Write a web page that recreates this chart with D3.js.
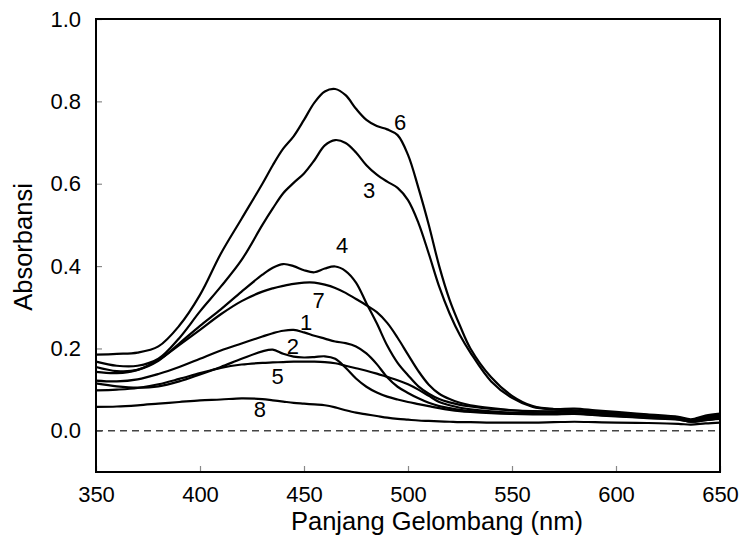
<!DOCTYPE html>
<html>
<head>
<meta charset="utf-8">
<script src="https://cdn.jsdelivr.net/npm/d3@7"></script>
<style>
  html, body { margin: 0; padding: 0; background: #fff; }
  svg { display: block; }
  text { font-family: "Liberation Sans", Arial, Helvetica, sans-serif; fill: #000; }
</style>
</head>
<body>
<svg id="chart" width="748" height="540"></svg>
<script>
// Wavelength grid (nm) shared by every spectrum
const wavelength = [350, 360, 370, 380, 390, 400, 410, 420, 430, 435, 440, 445, 450, 455, 460, 465, 470,
  475, 480, 485, 490, 495, 500, 505, 510, 515, 520, 525, 530, 540, 550, 560, 570, 580, 590, 600,
  615, 630, 636, 643, 650];

// Absorbance spectra, one array per sample
const spectrum1 = [0.122, 0.120, 0.125, 0.138, 0.155, 0.175, 0.195, 0.212, 0.229, 0.237, 0.243, 0.245, 0.239,
  0.231, 0.224, 0.217, 0.213, 0.205, 0.188, 0.162, 0.130, 0.107, 0.092, 0.079, 0.068, 0.060, 0.055,
  0.051, 0.048, 0.045, 0.043, 0.042, 0.042, 0.043, 0.040, 0.037, 0.033, 0.029, 0.023, 0.028, 0.031];
const spectrum2 = [0.115, 0.108, 0.105, 0.108, 0.120, 0.137, 0.155, 0.175, 0.193, 0.197, 0.187, 0.180, 0.178,
  0.179, 0.181, 0.175, 0.153, 0.127, 0.107, 0.093, 0.083, 0.076, 0.070, 0.065, 0.060, 0.055, 0.051,
  0.048, 0.046, 0.043, 0.041, 0.040, 0.040, 0.041, 0.038, 0.035, 0.031, 0.027, 0.022, 0.026, 0.029];
const spectrum3 = [0.168, 0.158, 0.158, 0.175, 0.225, 0.290, 0.350, 0.415, 0.500, 0.540, 0.577, 0.602, 0.625,
  0.657, 0.693, 0.706, 0.699, 0.676, 0.645, 0.622, 0.605, 0.590, 0.560, 0.505, 0.430, 0.350, 0.285,
  0.232, 0.190, 0.120, 0.080, 0.058, 0.052, 0.050, 0.047, 0.043, 0.038, 0.032, 0.026, 0.034, 0.040];
const spectrum4 = [0.155, 0.145, 0.148, 0.170, 0.212, 0.255, 0.295, 0.338, 0.379, 0.396, 0.405, 0.400, 0.390,
  0.385, 0.394, 0.399, 0.388, 0.360, 0.310, 0.261, 0.207, 0.165, 0.135, 0.108, 0.090, 0.077, 0.069,
  0.063, 0.059, 0.053, 0.050, 0.048, 0.047, 0.048, 0.045, 0.041, 0.036, 0.031, 0.025, 0.032, 0.037];
const spectrum5 = [0.098, 0.100, 0.104, 0.113, 0.126, 0.140, 0.153, 0.161, 0.165, 0.166, 0.167, 0.168, 0.168,
  0.168, 0.167, 0.164, 0.158, 0.152, 0.146, 0.139, 0.131, 0.123, 0.113, 0.100, 0.085, 0.070, 0.062,
  0.056, 0.052, 0.047, 0.044, 0.043, 0.042, 0.042, 0.039, 0.036, 0.032, 0.028, 0.022, 0.026, 0.030];
const spectrum6 = [0.185, 0.187, 0.190, 0.205, 0.255, 0.330, 0.430, 0.515, 0.600, 0.645, 0.685, 0.715, 0.755,
  0.797, 0.824, 0.830, 0.815, 0.782, 0.755, 0.740, 0.732, 0.718, 0.670, 0.590, 0.500, 0.400, 0.318,
  0.255, 0.200, 0.130, 0.085, 0.060, 0.053, 0.054, 0.050, 0.046, 0.040, 0.034, 0.028, 0.037, 0.042];
const spectrum7 = [0.143, 0.140, 0.148, 0.172, 0.208, 0.245, 0.283, 0.315, 0.338, 0.346, 0.352, 0.357, 0.360,
  0.360, 0.355, 0.347, 0.335, 0.320, 0.305, 0.288, 0.262, 0.226, 0.185, 0.145, 0.112, 0.090, 0.077,
  0.068, 0.062, 0.055, 0.050, 0.047, 0.046, 0.047, 0.044, 0.040, 0.035, 0.030, 0.024, 0.030, 0.034];
const spectrum8 = [0.058, 0.059, 0.062, 0.066, 0.070, 0.074, 0.076, 0.079, 0.077, 0.074, 0.071, 0.068, 0.066,
  0.064, 0.062, 0.057, 0.050, 0.044, 0.040, 0.036, 0.032, 0.029, 0.027, 0.025, 0.024, 0.023, 0.022,
  0.021, 0.021, 0.020, 0.020, 0.020, 0.021, 0.022, 0.021, 0.020, 0.019, 0.017, 0.015, 0.018, 0.020];

const seriesNames = ["1", "2", "3", "4", "5", "6", "7", "8"];
const seriesValues = [spectrum1, spectrum2, spectrum3, spectrum4, spectrum5, spectrum6, spectrum7, spectrum8];

// Curve number labels, anchored in data units (nm, absorbance)
const labelNm = [451.0, 444.7, 481.3, 468.3, 437.3, 496.2, 457.0, 428.8];
const labelAbs = [0.264, 0.205, 0.585, 0.452, 0.132, 0.750, 0.318, 0.052];

const xTicks = [350, 400, 450, 500, 550, 600, 650];
const yTicks = [0.0, 0.2, 0.4, 0.6, 0.8, 1.0];
const xTitle = "Panjang Gelombang (nm)";
const yTitle = "Absorbansi";

const svg = d3.select("#chart");
const plotLeft = 96, plotRight = 720, plotTop = 19, plotBottom = 472;

const x = d3.scaleLinear().domain([350, 650]).range([plotLeft, plotRight]);
const y = d3.scaleLinear().domain([-0.1, 1.0]).range([plotBottom, plotTop]);

// Axes with inward ticks
const xAxis = svg.append("g")
  .attr("transform", `translate(0,${plotBottom})`)
  .call(d3.axisBottom(x).tickValues(xTicks).tickSize(-6).tickPadding(14).tickFormat(d3.format("d")));
const yAxis = svg.append("g")
  .attr("transform", `translate(${plotLeft},0)`)
  .call(d3.axisLeft(y).tickValues(yTicks).tickSize(-6).tickPadding(15).tickFormat(d3.format(".1f")));

[xAxis, yAxis].forEach(g => {
  g.select(".domain").remove();
  g.selectAll(".tick line").attr("stroke", "#888").attr("stroke-width", 1.2);
  g.selectAll(".tick text").attr("font-size", 22).attr("fill", "#000")
    .attr("font-family", "'Liberation Sans', Arial, sans-serif");
});

// Zero baseline
svg.append("line")
  .attr("x1", x(350)).attr("x2", x(650))
  .attr("y1", y(0)).attr("y2", y(0))
  .attr("stroke", "#444").attr("stroke-width", 1.5)
  .attr("stroke-dasharray", "7,5");

// Spectra
const line = d3.line()
  .x((d, i) => x(wavelength[i]))
  .y(d => y(d))
  .curve(d3.curveCatmullRom.alpha(0.5));

svg.append("g")
  .selectAll("path")
  .data(seriesValues)
  .join("path")
  .attr("d", line)
  .attr("fill", "none")
  .attr("stroke", "#000")
  .attr("stroke-width", 2.2)
  .attr("stroke-linejoin", "round");

// Curve labels
svg.append("g")
  .selectAll("text")
  .data(seriesNames)
  .join("text")
  .attr("x", (d, i) => x(labelNm[i]))
  .attr("y", (d, i) => y(labelAbs[i]))
  .attr("dy", "0.36em")
  .attr("text-anchor", "middle")
  .attr("font-size", 22)
  .text(d => d);

// Plot frame
svg.append("rect")
  .attr("x", plotLeft).attr("y", plotTop)
  .attr("width", plotRight - plotLeft).attr("height", plotBottom - plotTop)
  .attr("fill", "none").attr("stroke", "#000").attr("stroke-width", 2);

// Axis titles
svg.append("text")
  .attr("x", 437).attr("y", 530)
  .attr("text-anchor", "middle")
  .attr("font-size", 25.5)
  .text(xTitle);

svg.append("text")
  .attr("transform", "translate(32,247) rotate(-90)")
  .attr("text-anchor", "middle")
  .attr("font-size", 25.5)
  .text(yTitle);
</script>
</body>
</html>
